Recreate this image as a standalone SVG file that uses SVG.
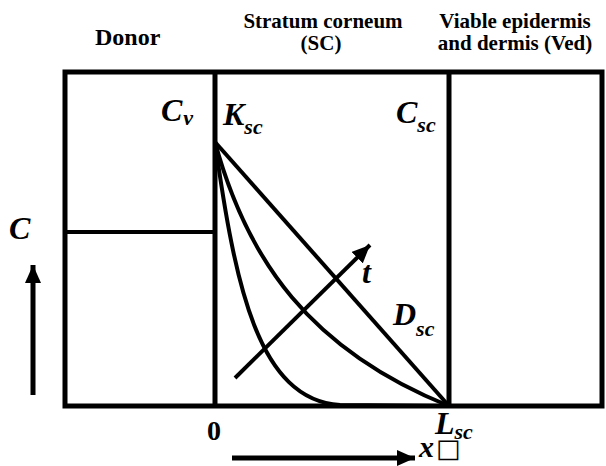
<svg xmlns="http://www.w3.org/2000/svg" width="606" height="466" viewBox="0 0 606 466">
<style>
text{font-family:"Liberation Serif","Times New Roman",serif;font-weight:bold;fill:#000}
.hd{font-size:21px}
.big{font-size:24px}
.it{font-style:italic}
.sym{font-size:32px}
.sub{font-size:22px}
.fr{fill:none;stroke:#000;stroke-width:5}
.cv{fill:none;stroke:#000;stroke-width:4}
.ar{fill:none;stroke:#000;stroke-width:5}
</style>
<defs>
<marker id="ah" markerUnits="userSpaceOnUse" markerWidth="20" markerHeight="16" refX="18" refY="8" orient="auto">
<polygon points="0,0 18,8 0,16" fill="#000"/>
</marker>
</defs>
<g id="frame">
<rect class="fr" x="65" y="72" width="537" height="334"/>
<line class="fr" x1="215" y1="72" x2="215" y2="406"/>
<line class="fr" x1="449" y1="72" x2="449" y2="406"/>
<line class="cv" x1="65" y1="232" x2="217" y2="232"/>
</g>
<g id="curves">
<line class="cv" x1="215" y1="142" x2="449" y2="406"/>
<path class="cv" d="M215,142 C247,260 310,350 449,406"/>
<path class="cv" d="M215,142 C235,285 258,400 340,405 L449,406"/>
</g>
<g id="connectors">
<line class="ar" x1="33" y1="395" x2="33" y2="265" marker-end="url(#ah)"/>
<line class="ar" x1="232" y1="458" x2="415" y2="458" marker-end="url(#ah)"/>
<line class="cv" x1="235" y1="378" x2="370" y2="245" marker-end="url(#ah)"/>
</g>
<g id="labels">
<text class="big" x="95" y="45">Donor</text>
<text class="hd" x="323" y="28" text-anchor="middle">Stratum corneum</text>
<text class="hd" x="321" y="50" text-anchor="middle">(SC)</text>
<text class="hd" x="515" y="28" text-anchor="middle">Viable epidermis</text>
<text class="hd" x="515" y="50" text-anchor="middle">and dermis (Ved)</text>
<text class="sym it" x="9" y="239">C</text>
<text class="it" x="161" y="121"><tspan class="sym">C</tspan><tspan class="sub" dx="1" dy="4">v</tspan></text>
<text class="it" x="223" y="125"><tspan class="sym">K</tspan><tspan class="sub" dy="9">sc</tspan></text>
<text class="it" x="396" y="123"><tspan class="sym">C</tspan><tspan class="sub" dy="9">sc</tspan></text>
<text class="sym it" x="362" y="283">t</text>
<text class="it" x="393" y="325"><tspan class="sym">D</tspan><tspan class="sub" dy="11">sc</tspan></text>
<text x="207" y="440" style="font-size:28px">0</text>
<text class="it" x="435" y="434"><tspan class="sym">L</tspan><tspan class="sub" dy="5">sc</tspan></text>
<text class="it" x="419" y="457" style="font-size:30px">x<tspan style="font-family:'DejaVu Sans',sans-serif;font-style:normal;font-weight:normal;font-size:26px" dx="2">□</tspan></text>
</g>
</svg>
